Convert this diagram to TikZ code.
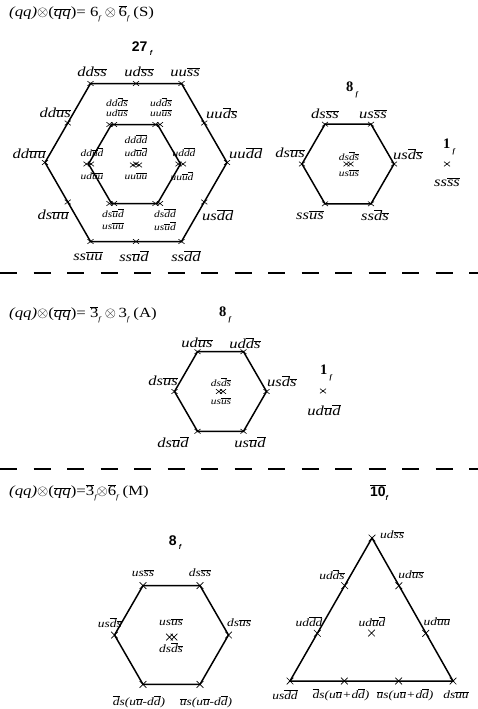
\documentclass[tikz,border=0pt]{standalone}
\usepackage{fontspec}
\setmainfont{Liberation Serif}
\newfontfamily\labf[FakeStretch=1.2]{Liberation Serif}
\newfontfamily\sansb{Liberation Sans}
\usetikzlibrary{shapes.misc}
\newcommand{\ob}[1]{\ensuremath{\overline{\mbox{#1}}}}
\newcommand{\subf}{\raisebox{-0.3em}{\fontsize{7}{7}\selectfont\itshape f}}
\newcommand{\otm}{{\fontsize{15}{15}\selectfont$\otimes$}}
\tikzset{
 edge/.style={line width=1.5pt},
 mk/.style={draw, cross out, minimum width=5.5pt, minimum height=4pt, inner sep=0pt, line width=0.6pt},
 mkx/.style={draw, cross out, minimum width=6pt, minimum height=6pt, inner sep=0pt, line width=0.7pt},
 lab/.style={inner sep=0pt, font=\labf\itshape\fontsize{13.8}{14}\selectfont},
 slab/.style={inner sep=0pt, font=\labf\itshape\fontsize{9.5}{9.5}\selectfont},
 mlab/.style={inner sep=0pt, font=\labf\itshape\fontsize{11.2}{11.2}\selectfont},
 ttl/.style={inner sep=0pt, anchor=west, font=\labf\fontsize{14}{14}\selectfont},
 bsf/.style={inner sep=0pt, font=\sansb\bfseries\fontsize{14}{14}\selectfont},
 bsr/.style={inner sep=0pt, font=\bfseries\fontsize{14.5}{14.5}\selectfont},
 sep/.style={line width=1.7pt, dash pattern=on 17pt off 16.5pt},
}
\begin{document}
\begin{tikzpicture}[x=1pt,y=-1pt]
\useasboundingbox (0,0) rectangle (478,709);
% ---------------- Section 1 ----------------
\node[ttl] (t1) at (9,14) {{\itshape (qq)}\otm({\itshape\ob{qq}})= 6\subf\ \otm\,\ob{6}\subf\ (S)};
\node[bsf] (n27) at (142,49) {27\,\subf};
% big hexagon
\node[mk] (b1) at (90.5,83.5) {};
\node[mk] (b2) at (136,83.5) {};
\node[mk] (b3) at (181.5,83.5) {};
\node[mk] (b4) at (204.25,123) {};
\node[mk] (b5) at (227,162.5) {};
\node[mk] (b6) at (204.25,202) {};
\node[mk] (b7) at (181.5,241.5) {};
\node[mk] (b8) at (136,241.5) {};
\node[mk] (b9) at (90.5,241.5) {};
\node[mk] (b10) at (67.75,202) {};
\node[mk] (b11) at (45,162.5) {};
\node[mk] (b12) at (67.75,123) {};
\draw[edge] (b1.center) -- (b3.center) -- (b5.center) -- (b7.center) -- (b9.center) -- (b11.center) -- cycle;
\node[lab] (lb1) at (92,72) {dd\ob{s}\ob{s}};
\node[lab] (lb2) at (139,72) {ud\ob{s}\ob{s}};
\node[lab] (lb3) at (185,72) {uu\ob{s}\ob{s}};
\node[lab,anchor=east] (lb12) at (71,113) {dd\ob{u}\ob{s}};
\node[lab,anchor=west] (lb4) at (206,113) {uu\ob{d}\ob{s}};
\node[lab,anchor=east] (lb11) at (46,154) {dd\ob{u}\ob{u}};
\node[lab,anchor=west] (lb5) at (229,153) {uu\ob{d}\ob{d}};
\node[lab,anchor=east] (lb10) at (69,215) {ds\ob{u}\ob{u}};
\node[lab,anchor=west] (lb6) at (202,215) {us\ob{d}\ob{d}};
\node[lab] (lb9) at (88,256) {ss\ob{u}\ob{u}};
\node[lab] (lb8) at (134,256) {ss\ob{u}\ob{d}};
\node[lab] (lb7) at (186,256) {ss\ob{d}\ob{d}};
% inner hexagon
\node[mk] (i1a) at (109.5,124.5) {};
\node[mk] (i1b) at (114,124.5) {};
\node[mk] (i2a) at (155.5,124.5) {};
\node[mk] (i2b) at (160,124.5) {};
\node[mk] (i3a) at (178.5,164) {};
\node[mk] (i3b) at (183,164) {};
\node[mk] (i4a) at (155.5,203.5) {};
\node[mk] (i4b) at (160,203.5) {};
\node[mk] (i5a) at (109.5,203.5) {};
\node[mk] (i5b) at (114,203.5) {};
\node[mk] (i6a) at (86.5,164) {};
\node[mk] (i6b) at (91,164) {};
\coordinate (i1) at (111.5,124.5);
\coordinate (i2) at (157.5,124.5);
\coordinate (i3) at (180.5,164);
\coordinate (i4) at (157.5,203.5);
\coordinate (i5) at (111.5,203.5);
\coordinate (i6) at (88.5,164);
\draw[edge] (i1) -- (i2) -- (i3) -- (i4) -- (i5) -- (i6) -- cycle;
\node[mk] (c1) at (133,165) {};
\node[mk] (c2) at (136,164) {};
\node[mk] (c3) at (139,165) {};
\node[slab] (li1a) at (117,102) {dd\ob{d}\ob{s}};
\node[slab] (li1b) at (117,113) {ud\ob{u}\ob{s}};
\node[slab] (li2a) at (161,102) {ud\ob{d}\ob{s}};
\node[slab] (li2b) at (161,113) {uu\ob{u}\ob{s}};
\node[slab] (li6a) at (92,152) {dd\ob{u}\ob{d}};
\node[slab] (li6b) at (92,176) {ud\ob{u}\ob{u}};
\node[slab] (li3a) at (184,152) {ud\ob{d}\ob{d}};
\node[slab] (li3b) at (182,176) {uu\ob{u}\ob{d}};
\node[slab] (lc1) at (136,139) {dd\ob{d}\ob{d}};
\node[slab] (lc2) at (136,152) {ud\ob{u}\ob{d}};
\node[slab] (lc3) at (136,176) {uu\ob{u}\ob{u}};
\node[slab] (li5a) at (113,213) {ds\ob{u}\ob{d}};
\node[slab] (li5b) at (113,226) {us\ob{u}\ob{u}};
\node[slab] (li4a) at (165,213) {ds\ob{d}\ob{d}};
\node[slab] (li4b) at (165,226) {us\ob{u}\ob{d}};
% octet S
\node[bsr] (n8a) at (352,90) {8\,\subf};
\node[mk] (o1) at (325,124.2) {};
\node[mk] (o2) at (371,124.2) {};
\node[mk] (o3) at (394,164) {};
\node[mk] (o4) at (371,203.8) {};
\node[mk] (o5) at (325,203.8) {};
\node[mk] (o6) at (302,164) {};
\draw[edge] (o1.center) -- (o2.center) -- (o3.center) -- (o4.center) -- (o5.center) -- (o6.center) -- cycle;
\node[mk] (oc1) at (346.5,164) {};
\node[mk] (oc2) at (350.5,164) {};
\node[lab] (lo1) at (325,114) {ds\ob{s}\ob{s}};
\node[lab] (lo2) at (373,114) {us\ob{s}\ob{s}};
\node[lab,anchor=east] (lo6) at (305,153) {ds\ob{u}\ob{s}};
\node[lab,anchor=west] (lo3) at (393,154) {us\ob{d}\ob{s}};
\node[lab] (lo5) at (310,215) {ss\ob{u}\ob{s}};
\node[lab] (lo4) at (375,215) {ss\ob{d}\ob{s}};
\node[slab] (loc1) at (349,156) {ds\ob{d}\ob{s}};
\node[slab] (loc2) at (349,173) {us\ob{u}\ob{s}};
\node[bsr] (n1a) at (449,147) {1\,\subf};
\node[mk] (s1) at (447,164) {};
\node[lab] (ls1) at (447,182) {ss\ob{s}\ob{s}};
% separator
\coordinate (d1l) at (0,273);
\coordinate (d1r) at (478,273);
\draw[sep] (d1l) -- (d1r);
% ---------------- Section 2 ----------------
\node[ttl] (t2) at (9,315) {{\itshape (qq)}\otm({\itshape\ob{qq}})= \ob{3}\subf\ \otm\,3\subf\ (A)};
\node[bsr] (n8b) at (225,315) {8\,\subf};
\node[mk] (p1) at (197.5,351.7) {};
\node[mk] (p2) at (243.5,351.7) {};
\node[mk] (p3) at (266.5,391.5) {};
\node[mk] (p4) at (243.5,431.3) {};
\node[mk] (p5) at (197.5,431.3) {};
\node[mk] (p6) at (174.5,391.5) {};
\draw[edge] (p1.center) -- (p2.center) -- (p3.center) -- (p4.center) -- (p5.center) -- (p6.center) -- cycle;
\node[mk] (pc1) at (219,391.5) {};
\node[mk] (pc2) at (223,391.5) {};
\node[lab] (lp1) at (197,343) {ud\ob{u}\ob{s}};
\node[lab] (lp2) at (245,343) {ud\ob{d}\ob{s}};
\node[lab,anchor=east] (lp6) at (178,381) {ds\ob{u}\ob{s}};
\node[lab,anchor=west] (lp3) at (267,381) {us\ob{d}\ob{s}};
\node[lab] (lp5) at (173,442) {ds\ob{u}\ob{d}};
\node[lab] (lp4) at (250,442) {us\ob{u}\ob{d}};
\node[slab] (lpc1) at (221,382) {ds\ob{d}\ob{s}};
\node[slab] (lpc2) at (221,401) {us\ob{u}\ob{s}};
\node[bsr] (n1b) at (326,373) {1\,\subf};
\node[mk] (s2) at (323,391) {};
\node[lab] (ls2) at (324,410) {ud\ob{u}\ob{d}};
\coordinate (d2l) at (0,469);
\coordinate (d2r) at (478,469);
\draw[sep] (d2l) -- (d2r);
% ---------------- Section 3 ----------------
\node[ttl] (t3) at (9,493) {{\itshape (qq)}\otm({\itshape\ob{qq}})=\ob{3}\subf\otm\ob{6}\subf\ (M)};
\node[bsf] (n10) at (379,493) {\ob{10}\subf};
\node[bsf] (n8c) at (175,543) {8\,\subf};
\node[mkx] (q1) at (143,585.6) {};
\node[mkx] (q2) at (200,585.6) {};
\node[mkx] (q3) at (228.5,635) {};
\node[mkx] (q4) at (200,684.4) {};
\node[mkx] (q5) at (143,684.4) {};
\node[mkx] (q6) at (114.5,635) {};
\draw[edge] (q1.center) -- (q2.center) -- (q3.center) -- (q4.center) -- (q5.center) -- (q6.center) -- cycle;
\node[mkx] (qc1) at (169.5,637) {};
\node[mkx] (qc2) at (174,637) {};
\node[mlab] (lq1) at (143,573) {us\ob{s}\ob{s}};
\node[mlab] (lq2) at (200,573) {ds\ob{s}\ob{s}};
\node[mlab,anchor=east] (lq6) at (122,623) {us\ob{d}\ob{s}};
\node[mlab,anchor=west] (lq3) at (227,623) {ds\ob{u}\ob{s}};
\node[mlab] (lq5) at (139,702) {\ob{d}s(u\ob{u}-d\ob{d})};
\node[mlab] (lq4) at (206,702) {\ob{u}s(u\ob{u}-d\ob{d})};
\node[mlab] (lqc1) at (171,622) {us\ob{u}\ob{s}};
\node[mlab] (lqc2) at (171,648) {ds\ob{d}\ob{s}};
% decuplet-bar triangle
\node[mkx] (r1) at (372,538) {};
\node[mkx] (r2) at (398.8,585.7) {};
\node[mkx] (r3) at (425.7,633.3) {};
\node[mkx] (r4) at (453,681) {};
\node[mkx] (r5) at (398.7,681) {};
\node[mkx] (r6) at (344.3,681) {};
\node[mkx] (r7) at (290,681) {};
\node[mkx] (r8) at (317.3,633.3) {};
\node[mkx] (r9) at (344.7,585.7) {};
\node[mkx] (r10) at (371.5,633) {};
\draw[edge] (r1.center) -- (r4.center) -- (r7.center) -- cycle;
\node[mlab,anchor=west] (lr1) at (380,535) {ud\ob{s}\ob{s}};
\node[mlab] (lr9) at (332,575) {ud\ob{d}\ob{s}};
\node[mlab] (lr8) at (309,622) {ud\ob{d}\ob{d}};
\node[mlab] (lr2) at (411,575) {ud\ob{u}\ob{s}};
\node[mlab] (lr3) at (437,622) {ud\ob{u}\ob{u}};
\node[mlab] (lr10) at (372,622) {ud\ob{u}\ob{d}};
\node[mlab] (lr7) at (285,695) {us\ob{d}\ob{d}};
\node[mlab] (lr6) at (341,695) {\ob{d}s(u\ob{u}+d\ob{d})};
\node[mlab] (lr5) at (405,695) {\ob{u}s(u\ob{u}+d\ob{d})};
\node[mlab] (lr4) at (456,695) {ds\ob{u}\ob{u}};
\end{tikzpicture}
\end{document}
